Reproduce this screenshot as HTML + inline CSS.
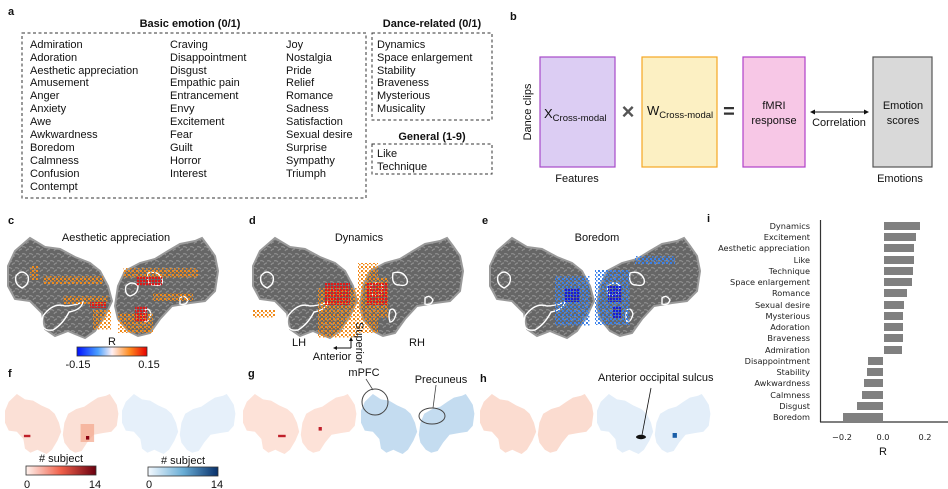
<!DOCTYPE html>
<html><head><meta charset="utf-8"><style>
html,body{margin:0;padding:0;background:#fff;}
svg{display:block;font-family:"Liberation Sans",Arial,sans-serif;}
.t{font-size:11px;fill:#111;}
.b{font-weight:bold;}
.bl{font-size:8.2px;fill:#222;font-family:"DejaVu Sans",sans-serif;text-anchor:end;}
</style></head><body>
<svg width="948" height="489" viewBox="0 0 948 489" xmlns="http://www.w3.org/2000/svg">
<defs>
<path id="lh" d="M0,28 L7,13 L22,0 L37,9 L52,11 L67,19 L82,25 L92,33 L100,48 L104,63 L97,78 L87,93 L77,100 L67,96 L60,93 L47,98 L37,91 L34,75 L22,63 L7,61 L0,48Z"/>
<path id="rh" d="M107,68 L110,48 L117,33 L132,25 L147,21 L160,13 L172,6 L187,3 L194,0 L200,8 L207,18 L210,33 L207,53 L197,63 L182,65 L164,68 L152,81 L142,95 L130,98 L120,93 L110,81Z"/>
<pattern id="tex" width="7" height="7" patternUnits="userSpaceOnUse"><rect width="7" height="7" fill="#666"/><path d="M0,2 q2,-1 4,1 M4,6 q1,-2 3,-2" stroke="#8e8e8e" stroke-width="1.2" fill="none"/></pattern>
<pattern id="po" width="4" height="4" patternUnits="userSpaceOnUse"><rect x="0" y="0" width="2" height="2" fill="#f08a1a"/><rect x="2" y="2" width="1.5" height="1.5" fill="#f08a1a"/></pattern>
<pattern id="pr" width="3" height="3" patternUnits="userSpaceOnUse"><rect width="2.2" height="2.2" fill="#e01818"/></pattern>
<pattern id="pb" width="4" height="4" patternUnits="userSpaceOnUse"><rect width="2" height="2" fill="#3a80e8"/><rect x="2" y="2" width="1.5" height="1.5" fill="#3a80e8"/></pattern>
<pattern id="pdb" width="3" height="3" patternUnits="userSpaceOnUse"><rect width="2.2" height="2.2" fill="#1a1ad0"/></pattern>
<g id="brain"><use href="#lh" fill="url(#tex)" stroke="#999" stroke-width="2"/><use href="#rh" fill="url(#tex)" stroke="#999" stroke-width="2"/>
<path d="M8,38 q6,-8 12,0 q2,8 -6,12 q-8,-4 -6,-12Z M35,78 q10,-14 22,-10 q8,0 18,-4 q-2,8 -14,10 q-6,12 -16,18 q-14,2 -10,-14Z M140,35 q10,-3 14,6 q2,8 -8,6 q-8,0 -6,-12Z M118,48 q6,-6 12,0 q0,8 -8,10 q-6,-2 -4,-10Z M137,72 q4,-3 6,4 q-2,8 -6,8 q-2,-6 0,-12Z M172,60 q4,-4 8,2 q-2,6 -8,4Z" fill="none" stroke="#fff" stroke-width="1.4"/>
</g>
<g id="flat"><use href="#lh"/><use href="#rh"/></g>
<linearGradient id="gR" x1="0" x2="1"><stop offset="0" stop-color="#0010ff"/><stop offset="0.3" stop-color="#4aa0ff"/><stop offset="0.5" stop-color="#fff0f4"/><stop offset="0.75" stop-color="#ff8c20"/><stop offset="1" stop-color="#e80000"/></linearGradient>
<linearGradient id="gRed" x1="0" x2="1"><stop offset="0" stop-color="#fff3ee"/><stop offset="0.5" stop-color="#f0604a"/><stop offset="1" stop-color="#6b0010"/></linearGradient>
<linearGradient id="gBlue" x1="0" x2="1"><stop offset="0" stop-color="#f4f9ff"/><stop offset="0.5" stop-color="#6aaed6"/><stop offset="1" stop-color="#08306b"/></linearGradient>
</defs>

<text x="8" y="15" class="t b" font-size="12">a</text>
<text x="190" y="27" class="t b" text-anchor="middle">Basic emotion (0/1)</text>
<rect x="22" y="33" width="344" height="165" fill="none" stroke="#333" stroke-dasharray="3,2.5"/>
<g class="t">
<text x="30" y="48">Admiration</text><text x="30" y="61">Adoration</text><text x="30" y="74">Aesthetic appreciation</text><text x="30" y="86">Amusement</text><text x="30" y="99">Anger</text><text x="30" y="112">Anxiety</text><text x="30" y="125">Awe</text><text x="30" y="138">Awkwardness</text><text x="30" y="151">Boredom</text><text x="30" y="164">Calmness</text><text x="30" y="177">Confusion</text><text x="30" y="190">Contempt</text>
<text x="170" y="48">Craving</text><text x="170" y="61">Disappointment</text><text x="170" y="74">Disgust</text><text x="170" y="86">Empathic pain</text><text x="170" y="99">Entrancement</text><text x="170" y="112">Envy</text><text x="170" y="125">Excitement</text><text x="170" y="138">Fear</text><text x="170" y="151">Guilt</text><text x="170" y="164">Horror</text><text x="170" y="177">Interest</text>
<text x="286" y="48">Joy</text><text x="286" y="61">Nostalgia</text><text x="286" y="74">Pride</text><text x="286" y="86">Relief</text><text x="286" y="99">Romance</text><text x="286" y="112">Sadness</text><text x="286" y="125">Satisfaction</text><text x="286" y="138">Sexual desire</text><text x="286" y="151">Surprise</text><text x="286" y="164">Sympathy</text><text x="286" y="177">Triumph</text>
</g>
<text x="432" y="27" class="t b" text-anchor="middle">Dance-related (0/1)</text>
<rect x="372" y="33" width="120" height="87" fill="none" stroke="#333" stroke-dasharray="3,2.5"/>
<g class="t">
<text x="377" y="48">Dynamics</text><text x="377" y="61">Space enlargement</text><text x="377" y="74">Stability</text><text x="377" y="86">Braveness</text><text x="377" y="99">Mysterious</text><text x="377" y="112">Musicality</text>
</g>
<text x="432" y="140" class="t b" text-anchor="middle">General (1-9)</text>
<rect x="372" y="144" width="120" height="30" fill="none" stroke="#333" stroke-dasharray="3,2.5"/>
<text x="377" y="157" class="t">Like</text><text x="377" y="170" class="t">Technique</text>

<text x="510" y="20" class="t b" font-size="12">b</text>
<rect x="540" y="57" width="75" height="110" fill="#dccdf3" stroke="#a64ac9" stroke-width="1.2"/>
<rect x="642" y="57" width="75" height="110" fill="#fcf0c3" stroke="#f5a623" stroke-width="1.2"/>
<rect x="743" y="57" width="62" height="110" fill="#f7c7e6" stroke="#b040c9" stroke-width="1.2"/>
<rect x="873" y="57" width="59" height="110" fill="#d9d9d9" stroke="#555" stroke-width="1.2"/>
<text x="544" y="118" font-size="13" fill="#111">X<tspan font-size="9.5" dy="3">Cross-modal</tspan></text>
<text x="647" y="115" font-size="13" fill="#111">W<tspan font-size="9.5" dy="3">Cross-modal</tspan></text>
<text x="628" y="119" font-size="22" font-weight="bold" fill="#555" text-anchor="middle">×</text>
<text x="729" y="118" font-size="20" font-weight="bold" fill="#333" text-anchor="middle">=</text>
<text x="774" y="109" class="t" font-size="12" text-anchor="middle">fMRI</text>
<text x="774" y="124" class="t" font-size="12" text-anchor="middle">response</text>
<text x="903" y="109" class="t" font-size="12" text-anchor="middle">Emotion</text>
<text x="903" y="124" class="t" font-size="12" text-anchor="middle">scores</text>
<line x1="812" y1="112" x2="867" y2="112" stroke="#111"/>
<path d="M810,112 l5,-2.5 v5Z M869,112 l-5,-2.5 v5Z" fill="#111"/>
<text x="839" y="126" class="t" font-size="12" text-anchor="middle">Correlation</text>
<text transform="translate(531,112) rotate(-90)" class="t" font-size="12" text-anchor="middle">Dance clips</text>
<text x="577" y="182" class="t" font-size="12" text-anchor="middle">Features</text>
<text x="900" y="182" class="t" font-size="12" text-anchor="middle">Emotions</text>

<text x="8" y="224" class="t b" font-size="12">c</text>
<text x="249" y="224" class="t b" font-size="12">d</text>
<text x="482" y="224" class="t b" font-size="12">e</text>
<text x="116" y="241" class="t" font-size="12" text-anchor="middle">Aesthetic appreciation</text>
<text x="359" y="241" class="t" font-size="12" text-anchor="middle">Dynamics</text>
<text x="597" y="241" class="t" font-size="12" text-anchor="middle">Boredom</text>

<g transform="translate(8,238)"><use href="#brain"/>
<g fill="url(#po)"><rect x="35" y="38" width="60" height="8"/><rect x="55" y="58" width="45" height="8"/><rect x="85" y="72" width="18" height="20"/><rect x="115" y="30" width="75" height="10"/><rect x="145" y="55" width="40" height="8"/><rect x="110" y="75" width="35" height="20"/><rect x="22" y="28" width="8" height="14"/></g>
<g fill="url(#pr)"><rect x="128" y="38" width="26" height="10"/><rect x="127" y="68" width="12" height="16"/><rect x="82" y="64" width="16" height="6"/></g></g>

<g transform="translate(253,238)"><use href="#brain"/>
<g fill="url(#po)"><rect x="65" y="50" width="40" height="50"/><rect x="105" y="25" width="20" height="70"/><rect x="0" y="72" width="22" height="8"/><rect x="120" y="40" width="15" height="40"/></g>
<g fill="url(#pr)"><rect x="72" y="45" width="25" height="22"/><rect x="113" y="45" width="22" height="22"/></g></g>

<g transform="translate(490,238)"><use href="#brain"/>
<g fill="url(#pb)"><rect x="65" y="38" width="35" height="50"/><rect x="105" y="32" width="35" height="55"/><rect x="145" y="18" width="40" height="8"/></g>
<g fill="url(#pdb)"><rect x="74" y="50" width="16" height="14"/><rect x="118" y="48" width="14" height="16"/><rect x="123" y="68" width="8" height="12"/></g></g>

<text x="112" y="345" class="t" font-size="12" text-anchor="middle">R</text>
<rect x="77" y="347" width="70" height="9" fill="url(#gR)" stroke="#333" stroke-width="0.8"/>
<text x="78" y="368" class="t" font-size="12" text-anchor="middle">-0.15</text>
<text x="149" y="368" class="t" font-size="12" text-anchor="middle">0.15</text>

<text x="299" y="346" class="t" font-size="12" text-anchor="middle">LH</text>
<text x="417" y="346" class="t" font-size="12" text-anchor="middle">RH</text>
<path d="M351,348 H335 M351,348 V339" stroke="#111" fill="none"/>
<path d="M333,348 l4,-2 v4Z M351,337 l-2,4 h4Z" fill="#111"/>
<text x="332" y="360" class="t" font-size="11.5" text-anchor="middle">Anterior</text>
<text transform="translate(356,322) rotate(90)" class="t" font-size="11.5">Superior</text>

<text x="8" y="377" class="t b" font-size="12">f</text>
<text x="248" y="377" class="t b" font-size="12">g</text>
<text x="480" y="382" class="t b" font-size="12">h</text>

<g transform="translate(5,394) scale(0.54,0.6)"><use href="#flat" fill="#fbe0d6"/><rect x="35" y="68" width="12" height="4" fill="#c0202a"/><rect x="140" y="50" width="25" height="30" fill="#f4a58a" opacity="0.7"/><rect x="150" y="70" width="6" height="6" fill="#8a0010"/></g>
<g transform="translate(122,394) scale(0.54,0.6)"><use href="#flat" fill="#e6f0fa"/></g>
<g transform="translate(243,394) scale(0.54,0.6)"><use href="#flat" fill="#fde2d8"/><rect x="65" y="68" width="14" height="4" fill="#c0202a"/><rect x="140" y="55" width="6" height="6" fill="#c0202a"/></g>
<g transform="translate(361,394) scale(0.54,0.6)"><use href="#flat" fill="#c4dcf0"/></g>
<g transform="translate(480,394) scale(0.54,0.6)"><use href="#flat" fill="#fbdcd0"/></g>
<g transform="translate(597,394) scale(0.54,0.6)"><use href="#flat" fill="#e3eef9"/><rect x="140" y="65" width="8" height="8" fill="#1a5ea8"/></g>
<ellipse cx="641" cy="437" rx="5" ry="2.2" fill="#111"/>
<line x1="651" y1="388" x2="642" y2="435" stroke="#111" stroke-width="0.8"/>
<text x="598" y="381" class="t" font-size="11">Anterior occipital sulcus</text>

<ellipse cx="375" cy="402" rx="13" ry="13" fill="none" stroke="#444"/>
<line x1="366" y1="379" x2="373" y2="390" stroke="#444" stroke-width="0.8"/>
<text x="364" y="376" class="t" font-size="10.5" text-anchor="middle">mPFC</text>
<ellipse cx="432" cy="416" rx="13" ry="8" fill="none" stroke="#444"/>
<line x1="436" y1="385" x2="433" y2="408" stroke="#444" stroke-width="0.8"/>
<text x="441" y="383" class="t" font-size="10.5" text-anchor="middle">Precuneus</text>

<text x="61" y="462" class="t" font-size="12" text-anchor="middle"># subject</text>
<rect x="26" y="466" width="70" height="9" fill="url(#gRed)" stroke="#333" stroke-width="0.8"/>
<text x="27" y="488" class="t" font-size="12" text-anchor="middle">0</text>
<text x="95" y="488" class="t" font-size="12" text-anchor="middle">14</text>
<text x="183" y="464" class="t" font-size="12" text-anchor="middle"># subject</text>
<rect x="148" y="467" width="70" height="9" fill="url(#gBlue)" stroke="#333" stroke-width="0.8"/>
<text x="149" y="488" class="t" font-size="12" text-anchor="middle">0</text>
<text x="217" y="488" class="t" font-size="12" text-anchor="middle">14</text>

<text x="707" y="222" class="t b" font-size="12">i</text>
<line x1="820.5" y1="220" x2="820.5" y2="422" stroke="#333" stroke-width="1.2"/>
<line x1="820" y1="422" x2="948" y2="422" stroke="#333" stroke-width="1.2"/>
<g fill="#808080">
<rect x="884" y="222" width="36" height="8"/>
<rect x="884" y="233" width="32" height="8"/>
<rect x="884" y="244" width="30" height="8"/>
<rect x="884" y="256" width="30" height="8"/>
<rect x="884" y="267" width="29" height="8"/>
<rect x="884" y="278" width="28" height="8"/>
<rect x="884" y="289" width="23" height="8"/>
<rect x="884" y="301" width="20" height="8"/>
<rect x="884" y="312" width="19" height="8"/>
<rect x="884" y="323" width="19" height="8"/>
<rect x="884" y="334" width="19" height="8"/>
<rect x="884" y="346" width="18" height="8"/>
<rect x="868" y="357" width="15" height="8"/>
<rect x="867" y="368" width="16" height="8"/>
<rect x="864" y="379" width="19" height="8"/>
<rect x="862" y="391" width="21" height="8"/>
<rect x="857" y="402" width="26" height="8"/>
<rect x="843" y="413" width="40" height="8"/>
</g>
<g class="bl">
<text x="810" y="229">Dynamics</text>
<text x="810" y="240">Excitement</text>
<text x="810" y="251">Aesthetic appreciation</text>
<text x="810" y="263">Like</text>
<text x="810" y="274">Technique</text>
<text x="810" y="285">Space enlargement</text>
<text x="810" y="296">Romance</text>
<text x="810" y="308">Sexual desire</text>
<text x="810" y="319">Mysterious</text>
<text x="810" y="330">Adoration</text>
<text x="810" y="341">Braveness</text>
<text x="810" y="353">Admiration</text>
<text x="810" y="364">Disappointment</text>
<text x="810" y="375">Stability</text>
<text x="810" y="386">Awkwardness</text>
<text x="810" y="398">Calmness</text>
<text x="810" y="409">Disgust</text>
<text x="810" y="420">Boredom</text>
</g>
<g font-size="8.2" fill="#222" font-family="DejaVu Sans,sans-serif" text-anchor="middle">
<text x="842" y="440">−0.2</text><text x="883" y="440">0.0</text><text x="925" y="440">0.2</text>
</g>
<text x="883" y="455" class="t" font-size="12" text-anchor="middle">R</text>
</svg>
</body></html>
